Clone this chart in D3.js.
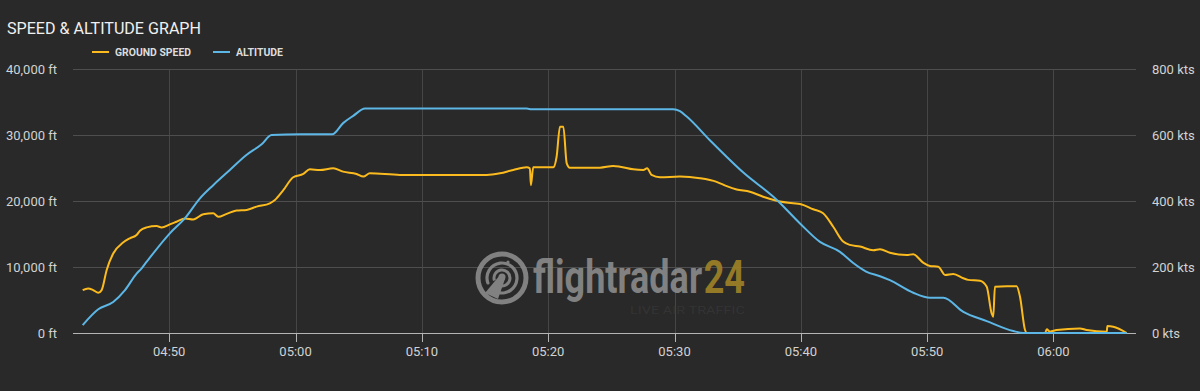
<!DOCTYPE html>
<html>
<head>
<meta charset="utf-8">
<script src="https://cdn.jsdelivr.net/npm/d3@7"></script>
<style>
  html, body { margin: 0; padding: 0; background: #292929; }
  svg { display: block; font-family: Roboto, sans-serif; }
</style>
</head>
<body>
<div id="chart"></div>
<script>
// values
var altitudeTimes = ['04:43:09', '04:44:23', '04:45:34', '04:46:30', '04:47:25', '04:47:49', '04:48:13',
  '04:50:03', '04:51:15', '04:52:26', '04:53:29', '04:54:48', '04:56:08', '04:57:19', '04:58:06',
  '05:00:21', '05:02:54', '05:03:46', '05:04:34', '05:05:30', '05:18:18', '05:18:41', '05:29:54',
  '05:30:26', '05:30:58', '05:32:48', '05:35:27', '05:38:05', '05:39:56', '05:41:31', '05:43:06',
  '05:44:09', '05:45:10', '05:46:16', '05:47:03', '05:48:54', '05:50:13', '05:51:17', '05:52:52',
  '05:54:43', '05:56:49', '05:57:37', '06:05:48'];
var altitudeValues = [1200, 3600, 4700, 6500, 9000, 9800, 10800,
  15100, 17400, 20400, 22400, 24700, 27000, 28600, 30000,
  30100, 30100, 31800, 32900, 34000, 34000, 33900, 33900,
  33600, 32800, 29200, 24300, 20200, 16600, 13800, 12300,
  10600, 9300, 8600, 8000, 6100, 5350, 5350, 3200,
  1800, 300, 0, 0];

var speedTimes = ['04:43:09', '04:43:35', '04:43:59', '04:44:23', '04:44:39', '04:45:03', '04:45:34',
  '04:46:21', '04:46:53', '04:47:25', '04:47:41', '04:48:13', '04:49:00', '04:49:24', '04:50:03',
  '04:50:35', '04:51:15', '04:51:54', '04:52:42', '04:53:29', '04:53:53', '04:54:33', '04:55:20',
  '04:56:08', '04:56:55', '04:57:58', '04:58:22', '04:59:02', '04:59:49', '05:00:37', '05:01:08',
  '05:01:56', '05:02:59', '05:03:46', '05:04:50', '05:05:22', '05:05:53', '05:08:16', '05:15:08',
  '05:16:11', '05:17:14', '05:18:18', '05:18:33', '05:18:38', '05:18:49', '05:20:24', '05:20:40',
  '05:20:56', '05:21:12', '05:21:28', '05:21:43', '05:24:06', '05:25:09', '05:25:41', '05:26:44',
  '05:27:32', '05:27:50', '05:28:11', '05:28:51', '05:30:26', '05:32:01', '05:33:20', '05:34:08',
  '05:34:55', '05:35:58', '05:37:01', '05:38:05', '05:39:24', '05:39:56', '05:40:59', '05:41:46',
  '05:42:34', '05:43:21', '05:43:53', '05:44:41', '05:45:44', '05:46:16', '05:47:03', '05:48:23',
  '05:48:54', '05:49:41', '05:50:13', '05:50:53', '05:51:25', '05:52:04', '05:52:52', '05:53:15',
  '05:54:11', '05:54:43', '05:55:06', '05:55:14', '05:55:22', '05:56:18', '05:57:05', '05:57:21',
  '05:57:45', '05:57:53', '05:59:20', '05:59:28', '05:59:43', '06:00:15', '06:02:06', '06:02:38',
  '06:04:13', '06:04:16', '06:04:44', '06:05:48'];
var speedValues = [130, 135, 130, 122, 130, 191, 241,
  274, 287, 297, 310, 320, 324, 320, 329,
  337, 347, 344, 360, 363, 352, 361, 371,
  373, 383, 393, 403, 433, 472, 482, 496,
  494, 499, 489, 482, 474, 484, 479, 479,
  484, 494, 502, 499, 448, 502, 502, 534,
  625, 625, 514, 501, 501, 506, 504, 496,
  494, 499, 479, 472, 474, 469, 458, 445,
  435, 428, 413, 401, 393, 391, 375, 363,
  322, 277, 267, 262, 251, 254, 243, 236,
  239, 213, 203, 201, 176, 179, 166, 161,
  158, 140, 60, 49, 140, 142, 142, 110,
  9, 0, 0, 11, 4, 9, 14, 9,
  4, 21, 19, 0];

var timeDomain = ['04:42:23', '06:06:32'];
var altitudeTicks = [0, 10000, 20000, 30000, 40000];
var speedTicks = [0, 200, 400, 600, 800];
var seriesNames = ['GROUND SPEED', 'ALTITUDE'];
var seriesColors = ['#fbbb1f', '#5cb6e6'];

var FlightGraph = (function() {

  FlightGraph.width = 1200;
  FlightGraph.height = 391;
  FlightGraph.plot = { left: 73, right: 1136, top: 69, bottom: 333 };
  FlightGraph.parse = d3.timeParse('%H:%M:%S');
  FlightGraph.markGray = '#8b8b8b';

  function FlightGraph() {
    this.buildScales();
    this.buildSVG();
    this.buildGrid();
    this.buildWatermark();
    this.buildAxes();
    this.buildLines();
    this.buildHeader();
  }

  FlightGraph.prototype.buildScales = function() {
    var p = FlightGraph.plot;
    this.x = d3.scaleTime()
      .domain(timeDomain.map(FlightGraph.parse))
      .range([p.left, p.right]);
    this.yAlt = d3.scaleLinear()
      .domain([0, 40000])
      .range([p.bottom, p.top]);
    this.ySpeed = d3.scaleLinear()
      .domain([0, 800])
      .range([p.bottom, p.top]);
  }

  FlightGraph.prototype.buildSVG = function() {
    this.svg = d3.select('#chart')
      .append('svg')
      .attr('width', FlightGraph.width)
      .attr('height', FlightGraph.height);
    this.svg.append('rect')
      .attr('width', FlightGraph.width)
      .attr('height', FlightGraph.height)
      .style('fill', '#292929');
  }

  FlightGraph.prototype.buildGrid = function() {
    var p = FlightGraph.plot;
    var _this = this;
    var grid = this.svg.append('g');
    grid.selectAll('.vgrid')
      .data(this.x.ticks(d3.timeMinute.every(10)))
      .enter()
      .append('line')
      .attr('x1', function(d) { return Math.round(_this.x(d)) + 0.5 })
      .attr('x2', function(d) { return Math.round(_this.x(d)) + 0.5 })
      .attr('y1', p.top)
      .attr('y2', p.bottom)
      .style('stroke', '#464646');
    grid.selectAll('.hgrid')
      .data(altitudeTicks.slice(1))
      .enter()
      .append('line')
      .attr('x1', p.left)
      .attr('x2', p.right)
      .attr('y1', function(d) { return Math.round(_this.yAlt(d)) + 0.5 })
      .attr('y2', function(d) { return Math.round(_this.yAlt(d)) + 0.5 })
      .style('stroke', '#4e4e4e');
  }

  // the flightradar24 logo in the middle of the plot
  FlightGraph.prototype.buildWatermark = function() {
    var gray = FlightGraph.markGray;
    var mark = this.svg.append('g')
      .attr('transform', 'translate(502,278)')
      .style('opacity', 0.9);
    mark.append('circle')
      .attr('r', 24)
      .style('fill', 'none')
      .style('stroke', gray)
      .style('stroke-width', 5);
    var arc = d3.arc();
    [[15, 3.2], [8, 3]].forEach(function(r) {
      mark.append('path')
        .attr('d', arc({ innerRadius: r[0] - r[1] / 2, outerRadius: r[0] + r[1] / 2,
          startAngle: -1.9, endAngle: 3.4 }))
        .style('fill', gray);
    });
    mark.append('path')
      .attr('d', 'M-2,-3 L3,1 L-4,21 L-17,15 Z')
      .style('fill', gray);
    mark.append('circle')
      .attr('cx', 0).attr('cy', -1).attr('r', 3.5)
      .style('fill', gray);
    [[6, -16], [-14, 5]].forEach(function(c) {
      mark.append('circle')
        .attr('cx', c[0]).attr('cy', c[1]).attr('r', 1.6)
        .style('fill', gray);
    });

    // word mark: natural widths, squeezed as a group to the logo's width
    var word = mark.append('g');
    var name = word.append('text')
      .style('font-size', '46px')
      .style('font-weight', 'bold')
      .style('fill', gray)
      .text('flightradar');
    var nameLen = name.node().getComputedTextLength();
    var num = word.append('text')
      .attr('x', nameLen + 2)
      .style('font-size', '46px')
      .style('font-weight', 'bold')
      .style('fill', '#a08227')
      .text('24');
    var total = nameLen + 2 + num.node().getComputedTextLength();
    word.attr('transform', 'translate(31,15) scale(' + (212 / total) + ',1)');

    mark.append('text')
      .attr('x', 128)
      .attr('y', 36)
      .attr('textLength', 115)
      .attr('lengthAdjust', 'spacingAndGlyphs')
      .style('font-size', '10px')
      .style('fill', '#353535')
      .text('LIVE AIR TRAFFIC');
  }

  FlightGraph.prototype.buildAxes = function() {
    var p = FlightGraph.plot;
    var _this = this;
    var ticks = this.x.ticks(d3.timeMinute.every(10));
    var axis = this.svg.append('g');
    axis.append('line')
      .attr('x1', p.left)
      .attr('x2', p.right)
      .attr('y1', p.bottom + 0.5)
      .attr('y2', p.bottom + 0.5)
      .style('stroke', '#b4b4b4');
    axis.selectAll('.tick')
      .data(ticks)
      .enter()
      .append('line')
      .attr('x1', function(d) { return Math.round(_this.x(d)) + 0.5 })
      .attr('x2', function(d) { return Math.round(_this.x(d)) + 0.5 })
      .attr('y1', p.bottom)
      .attr('y2', p.bottom + 9)
      .style('stroke', '#b4b4b4');
    axis.selectAll('.label')
      .data(ticks)
      .enter()
      .append('text')
      .attr('x', function(d) { return _this.x(d) })
      .attr('y', p.bottom + 23)
      .attr('text-anchor', 'middle')
      .style('font-size', '13px')
      .style('fill', '#d2d2d2')
      .text(d3.timeFormat('%H:%M'));

    var fmt = d3.format(',');
    axis.selectAll('.alt')
      .data(altitudeTicks)
      .enter()
      .append('text')
      .attr('x', 57)
      .attr('y', function(d) { return _this.yAlt(d) })
      .attr('dy', '0.36em')
      .attr('text-anchor', 'end')
      .style('font-size', '13px')
      .style('fill', '#d2d2d2')
      .text(function(d) { return fmt(d) + ' ft' });
    axis.selectAll('.spd')
      .data(speedTicks)
      .enter()
      .append('text')
      .attr('x', 1152)
      .attr('y', function(d) { return _this.ySpeed(d) })
      .attr('dy', '0.36em')
      .style('font-size', '13px')
      .style('fill', '#d2d2d2')
      .text(function(d) { return d + ' kts' });
  }

  FlightGraph.prototype.buildLines = function() {
    var _this = this;
    var parse = FlightGraph.parse;
    var speed = speedTimes.map(function(t, i) { return { t: parse(t), v: speedValues[i] } });
    var alt = altitudeTimes.map(function(t, i) { return { t: parse(t), v: altitudeValues[i] } });
    var speedLine = d3.line()
      .x(function(d) { return _this.x(d.t) })
      .y(function(d) { return _this.ySpeed(d.v) })
      .curve(d3.curveMonotoneX);
    var altLine = d3.line()
      .x(function(d) { return _this.x(d.t) })
      .y(function(d) { return _this.yAlt(d.v) })
      .curve(d3.curveMonotoneX);
    this.svg.append('path')
      .datum(speed)
      .attr('d', speedLine)
      .style('fill', 'none')
      .style('stroke', seriesColors[0])
      .style('stroke-width', 2)
      .style('stroke-linejoin', 'round');
    this.svg.append('path')
      .datum(alt)
      .attr('d', altLine)
      .style('fill', 'none')
      .style('stroke', seriesColors[1])
      .style('stroke-width', 2)
      .style('stroke-linejoin', 'round');
  }

  FlightGraph.prototype.buildHeader = function() {
    this.svg.append('text')
      .attr('x', 7)
      .attr('y', 34)
      .attr('textLength', 194)
      .attr('lengthAdjust', 'spacingAndGlyphs')
      .style('font-size', '17px')
      .style('fill', '#f0f0f0')
      .text('SPEED & ALTITUDE GRAPH');

    var widths = [76, 47];
    var legend = this.svg.append('g')
      .attr('transform', 'translate(92,52)');
    var item = legend.selectAll('.item')
      .data(seriesNames)
      .enter()
      .append('g')
      .attr('transform', function(d, i) { return 'translate(' + (i * 121) + ',0)' });
    item.append('line')
      .attr('x1', 0)
      .attr('x2', 17)
      .style('stroke', function(d, i) { return seriesColors[i] })
      .style('stroke-width', 2);
    item.append('text')
      .attr('x', 23)
      .attr('dy', '0.36em')
      .attr('textLength', function(d, i) { return widths[i] })
      .attr('lengthAdjust', 'spacingAndGlyphs')
      .style('font-size', '11.5px')
      .style('font-weight', 'bold')
      .style('fill', '#dcdcdc')
      .text(function(d) { return d });
  }

  return FlightGraph;

})();

new FlightGraph();
</script>
</body>
</html>
